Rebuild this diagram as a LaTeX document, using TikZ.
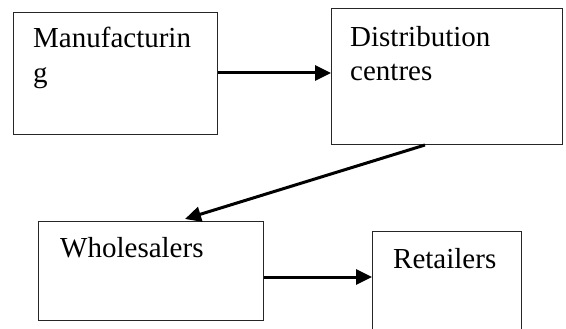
\documentclass[tikz,border=0pt]{standalone}
\usepackage{fontspec}
\setmainfont{Liberation Serif}
\usetikzlibrary{arrows.meta,calc}
\begin{document}
\begin{tikzpicture}[x=1pt,y=-1pt,
  box/.style={draw=black!85,line width=1pt,rectangle,inner sep=0pt,anchor=north west},
  lbl/.style={anchor=base west,inner sep=0pt,font=\fontsize{29}{35}\selectfont},
  flow/.style={line width=3pt,-{Triangle[length=16pt,width=15pt]}}]
\useasboundingbox (0,0) rectangle (566,329);
\node[box,minimum width=204pt,minimum height=122pt] (m) at (13,12) {};
\node[box,minimum width=231pt,minimum height=136pt] (d) at (331,8) {};
\node[box,minimum width=225pt,minimum height=99pt] (w) at (38,221) {};
\node[lbl] (mt1) at (33,48) {Manufacturin};
\node[lbl] (mt2) at (33,83) {g};
\node[lbl] (dt1) at (350,47) {Distribution};
\node[lbl] (dt2) at (350,81) {centres};
\node[lbl] (wt) at (60,258) {Wholesalers};
\node[lbl] (rt) at (393,269) {Retailers};
\coordinate (rtl) at (372,231);
\coordinate (rtr) at (521,231);
\draw[draw=black!85,line width=1pt] (372,335) -- (rtl) -- (rtr) -- (521,335);
\coordinate (rin) at (372,277);
\draw[flow] (m.east |- 0,73) -- (d.west |- 0,73);
\draw[flow] ($(d.south west)+(94,0)$) -- ($(w.north west)+(147,-2)$);
\draw[flow] (w.east |- rin) -- (rin);
\end{tikzpicture}
\end{document}
